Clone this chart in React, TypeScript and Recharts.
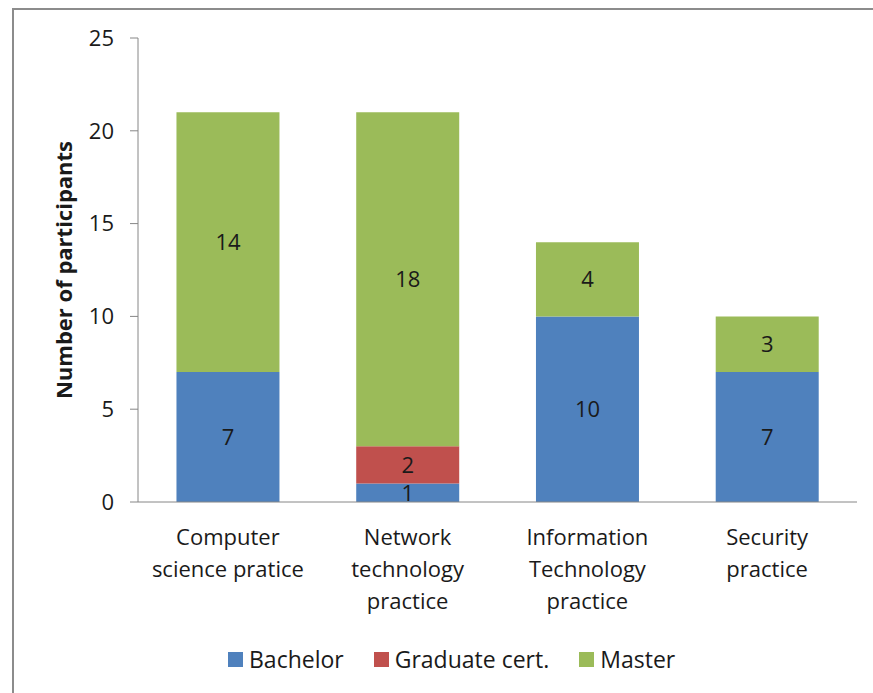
import React from "react";
import { BarChart, Bar, XAxis, YAxis, Legend, LabelList } from "recharts";

const categories = [
  "Computer\nscience pratice",
  "Network\ntechnology\npractice",
  "Information\nTechnology\npractice",
  "Security\npractice",
];
const bachelor = [7, 1, 10, 7];
const graduateCert = [0, 2, 0, 0];
const master = [14, 18, 4, 3];
const yTicks = [0, 5, 10, 15, 20, 25];

const seriesNames = ["Bachelor", "Graduate cert.", "Master"];
const seriesColors = ["#4F81BD", "#C0504D", "#9BBB59"];

const data = categories.map((c, i) => ({
  name: c,
  bachelor: bachelor[i],
  graduate: graduateCert[i],
  master: master[i],
}));

const FONT = "'Open Sans', Lato, sans-serif";
const TEXT = "#1a1a1a";
const FS = 22;

const XTick = (props: any) => {
  const { x, y, payload } = props;
  const lines = String(payload.value).split("\n");
  return (
    <text x={x} y={y} textAnchor="middle" fill={TEXT} fontFamily={FONT} fontSize={FS}>
      {lines.map((l: string, i: number) => (
        <tspan key={i} x={x} dy={i === 0 ? 35 : 32}>
          {l}
        </tspan>
      ))}
    </text>
  );
};

const YLabel = (props: any) => {
  const vb = props.viewBox || {};
  const cy = (vb.y ?? 0) + (vb.height ?? 0) / 2;
  const cx = 49;
  return (
    <text
      x={cx}
      y={cy}
      transform={`rotate(-90, ${cx}, ${cy})`}
      textAnchor="middle"
      dominantBaseline="central"
      fill={TEXT}
      fontFamily={FONT}
      fontSize={FS}
      fontWeight="bold"
    >
      Number of participants
    </text>
  );
};

const LegendContent = () => (
  <div
    style={{
      display: "flex",
      alignItems: "center",
      height: 30,
      fontFamily: FONT,
      fontSize: 23,
      color: TEXT,
      whiteSpace: "nowrap",
    }}
  >
    {seriesNames.map((n, i) => (
      <div key={n} style={{ display: "flex", alignItems: "center", marginRight: 30 }}>
        <span
          style={{
            display: "inline-block",
            width: 15,
            height: 15,
            background: seriesColors[i],
            marginRight: 6,
          }}
        />
        <span>{n}</span>
      </div>
    ))}
  </div>
);

const fmt = (v: any) => (v === 0 ? "" : v);

export default function App() {
  return (
    <div
      style={{
        position: "fixed",
        left: 0,
        top: 0,
        width: 873,
        height: 693,
        overflow: "hidden",
        background: "#ffffff",
      }}
    >
      <div
        style={{
          position: "absolute",
          left: 12,
          top: 8,
          width: 2,
          height: 685,
          background: "#8c8c8c",
        }}
      />
      <div
        style={{
          position: "absolute",
          left: 12,
          top: 8,
          width: 861,
          height: 2,
          background: "#8c8c8c",
        }}
      />
      <div style={{ position: "absolute", left: 14, top: 10 }}>
        <BarChart
          width={857}
          height={672}
          data={data}
          margin={{ top: 28, right: 14, left: 0, bottom: 8 }}
          barCategoryGap="21.4%"
          style={{ outline: "none" }}
        >
          <XAxis
            dataKey="name"
            axisLine={{ stroke: "#868686" }}
            tickLine={false}
            tick={<XTick />}
            height={142}
            interval={0}
          />
          <YAxis
            width={124}
            domain={[0, 25]}
            ticks={yTicks}
            axisLine={{ stroke: "#868686" }}
            tickLine={{ stroke: "#868686" }}
            tickSize={8}
            tickMargin={16}
            tick={{ fill: TEXT, fontFamily: FONT, fontSize: FS }}
            label={<YLabel />}
          />
          <Legend
            verticalAlign="bottom"
            content={<LegendContent />}
            wrapperStyle={{ left: 214, width: 620, height: 30 }}
          />
          <Bar dataKey="bachelor" name={seriesNames[0]} stackId="a" fill={seriesColors[0]} isAnimationActive={false}>
            <LabelList dataKey="bachelor" position="center" formatter={fmt} fill={TEXT} fontFamily={FONT} fontSize={FS} />
          </Bar>
          <Bar dataKey="graduate" name={seriesNames[1]} stackId="a" fill={seriesColors[1]} isAnimationActive={false}>
            <LabelList dataKey="graduate" position="center" formatter={fmt} fill={TEXT} fontFamily={FONT} fontSize={FS} />
          </Bar>
          <Bar dataKey="master" name={seriesNames[2]} stackId="a" fill={seriesColors[2]} isAnimationActive={false}>
            <LabelList dataKey="master" position="center" formatter={fmt} fill={TEXT} fontFamily={FONT} fontSize={FS} />
          </Bar>
        </BarChart>
      </div>
    </div>
  );
}
